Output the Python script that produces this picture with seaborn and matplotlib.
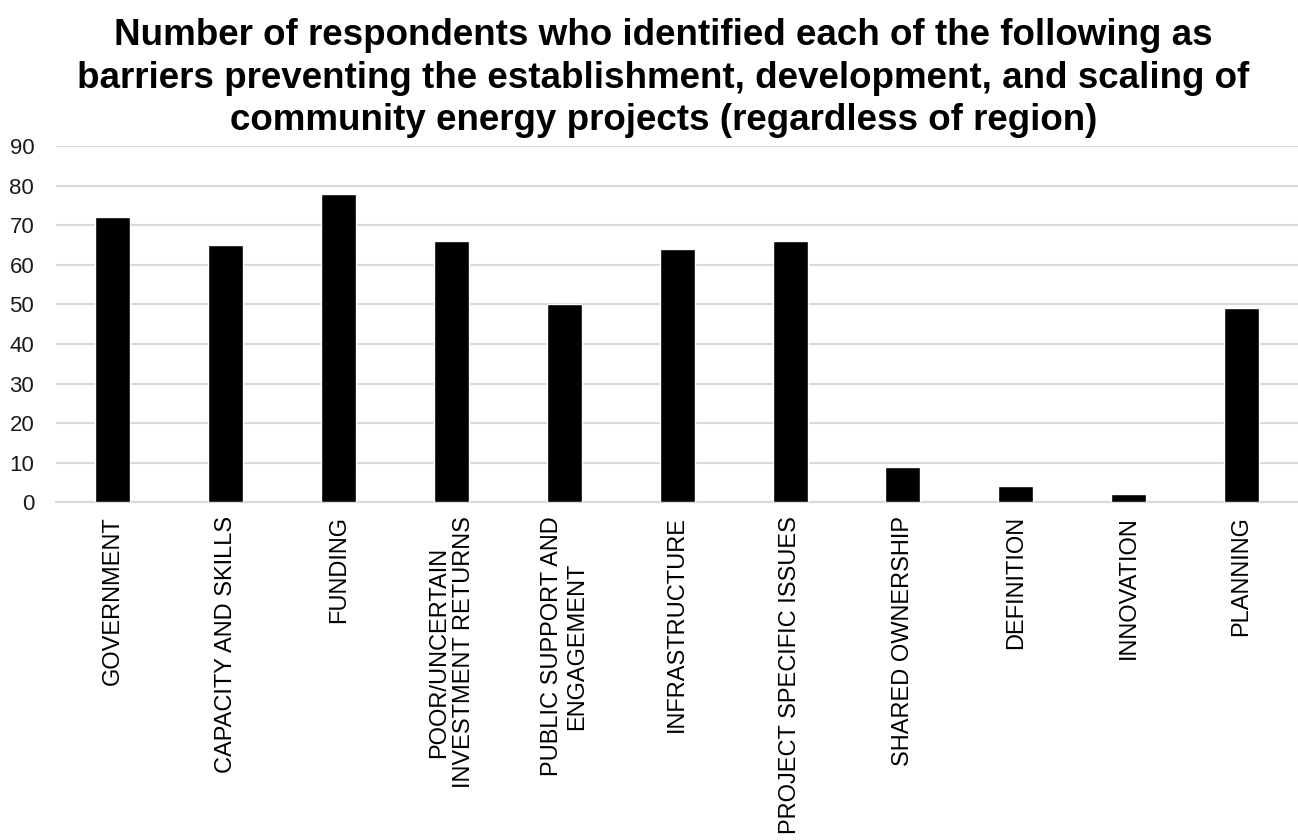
import matplotlib
matplotlib.use("Agg")
import matplotlib.pyplot as plt
import seaborn as sns
import pandas as pd

barriers = [
    "GOVERNMENT",
    "CAPACITY AND SKILLS",
    "FUNDING",
    "POOR/UNCERTAIN\nINVESTMENT RETURNS",
    "PUBLIC SUPPORT AND\nENGAGEMENT",
    "INFRASTRUCTURE",
    "PROJECT SPECIFIC ISSUES",
    "SHARED OWNERSHIP",
    "DEFINITION",
    "INNOVATION",
    "PLANNING",
]
respondents = [72, 65, 78, 66, 50, 64, 66, 9, 4, 2, 49]
y_ticks = [0, 10, 20, 30, 40, 50, 60, 70, 80, 90]

title = ("Number of respondents who identified each of the following as\n"
         "barriers preventing the establishment, development, and scaling of\n"
         "community energy projects (regardless of region)")

sns.set_theme(style="white")
plt.rcParams["font.family"] = ["Liberation Sans", "DejaVu Sans"]

df = pd.DataFrame({"barrier": barriers, "count": respondents})

fig = plt.figure(figsize=(12.98, 8.4), dpi=100)
ax = fig.add_axes([0.0435, 0.402, 0.9565, 0.424])

sns.barplot(data=df, x="barrier", y="count", color="black", width=0.31,
            saturation=1, ax=ax, zorder=3)

ax.set_ylim(0, 90)
ax.set_yticks(y_ticks)
ax.set_xlim(-0.5, len(barriers) - 0.5)
ax.grid(axis="y", color="#d9d9d9", linewidth=1.5, zorder=0)
ax.set_axisbelow(True)
for side in ["top", "right", "left"]:
    ax.spines[side].set_visible(False)
ax.spines["bottom"].set_color("#d9d9d9")
ax.spines["bottom"].set_linewidth(1.5)
ax.set_xlabel("")
ax.set_ylabel("")
ax.tick_params(axis="both", length=0, colors="#000000")
ax.tick_params(axis="x", pad=10, labelsize=17)
ax.tick_params(axis="y", pad=16, labelsize=16)
for lbl in ax.get_xticklabels():
    lbl.set_rotation(90)
    lbl.set_ha("center")
    lbl.set_va("top")
    lbl.set_multialignment("center")
    lbl.set_linespacing(1.15)
for lbl in ax.get_yticklabels():
    lbl.set_color("#1a1a1a")

fig.text(0.511, 0.978, title, fontsize=26.5, fontweight="bold", ha="center",
         va="top", multialignment="center", linespacing=1.26, color="black")

fig.savefig("out.png", dpi=100, facecolor="white")
